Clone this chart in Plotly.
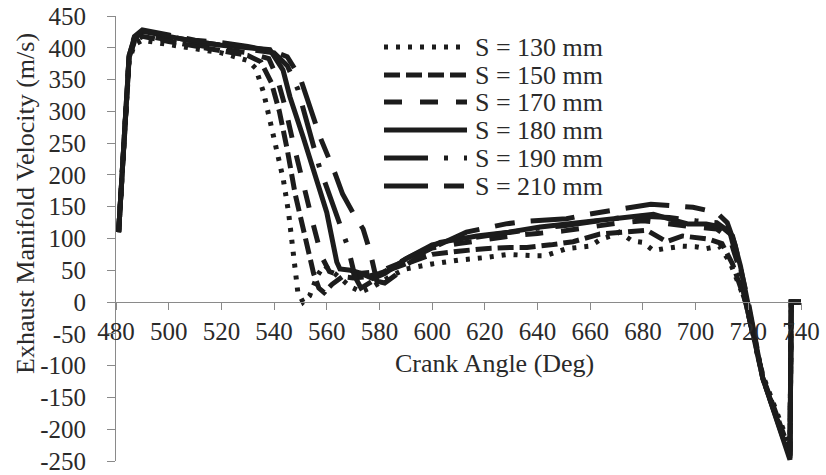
import plotly.graph_objects as go

# ---------------- data ----------------
names = ["S = 130 mm", "S = 150 mm", "S = 170 mm", "S = 180 mm", "S = 190 mm", "S = 210 mm"]

x130 = [481, 483, 485, 487, 490, 500, 510, 520, 530, 533, 536, 539, 541, 543.5, 545.5, 547, 548, 549, 551,
        553.5, 556.5, 559, 563, 569, 573, 578, 584, 590, 600, 610, 620, 629, 638, 643, 651, 660, 664, 668,
        671, 676, 680, 684, 688, 695, 700, 704, 709, 713, 716, 719, 725.5, 735.8, 736.3, 740]
v130 = [110, 250, 380, 405, 412, 405, 398, 392, 380, 368, 330, 276, 245, 193, 141, 88, 52, 16, 0,
        10, 42, 58, 45, 24, 16, 25, 40, 52, 60, 66, 70, 75, 73, 73, 84, 88, 99, 104,
        110, 96, 94, 81, 84, 88, 87, 84, 88, 63, 32, 0, -115, -228, 0, 0]

x150 = [481, 483, 485, 487, 490, 500, 510, 520, 530, 535, 539, 542, 545, 548, 551, 553, 555, 557, 559, 562,
        566, 570, 575, 580, 590, 600, 610, 620, 630, 636, 645, 653.5, 663.7, 672, 681.5, 689, 695, 705,
        710, 714, 717, 719, 725.5, 735.8, 736.3, 740]
v150 = [110, 255, 385, 410, 418, 410, 402, 396, 388, 378, 345, 300, 240, 170, 115, 80, 45, 22, 15, 28,
        40, 38, 40, 45, 60, 75, 80, 84, 86, 86, 90, 95, 107, 110, 113, 95, 104, 99,
        92, 60, 25, 0, -118, -235, 0, 0]

x170 = [481, 483, 485, 487, 490, 500, 510, 520, 530, 538, 541, 544, 547, 551, 555, 558, 561, 565, 570, 575,
        580, 590, 600, 610, 620, 630, 640, 650, 660, 670, 680, 690, 700, 708, 713, 716, 719, 725.5,
        735.8, 736.3, 740]
v170 = [110, 255, 385, 412, 420, 412, 404, 398, 392, 383, 355, 310, 255, 185, 120, 72, 48, 42, 44, 46,
        48, 65, 85, 92, 98, 104, 108, 112, 118, 124, 128, 122, 118, 115, 100, 60, 0, -120,
        -240, 0, 0]

x180 = [481, 483, 485, 487, 490, 500, 510, 520, 530, 538.4, 543.4, 546, 551, 554.8, 560, 563.8, 565, 569,
        573, 577.5, 582, 590, 603, 617, 629, 641, 659, 671, 684, 690, 697, 704, 710, 714, 717, 719.5,
        725.5, 735.8, 736.3, 740]
v180 = [110, 255, 388, 415, 426, 418, 410, 404, 400, 397, 365, 323, 260, 209, 141, 63, 52, 50,
        45, 37, 45, 68, 94, 104, 110, 118, 126, 133, 138, 131, 123, 123, 118, 104, 57, 5,
        -120, -248, 0, 0]

x190 = [481, 483, 485, 487, 490, 500, 510, 520, 530, 540, 545, 549, 553, 557, 562, 565, 568, 570.7, 573,
        577, 582, 590, 600, 610, 620, 630, 640, 650, 660, 670, 680, 690, 700, 708, 713, 716, 719,
        725.5, 735.8, 736.3, 740]
v190 = [110, 255, 388, 416, 425, 418, 410, 404, 398, 392, 372, 335, 275, 215, 157, 120, 87, 40, 22,
        32, 48, 68, 90, 98, 104, 110, 116, 120, 126, 132, 135, 133, 128, 125, 110, 62, 0,
        -120, -242, 0, 0]

x210 = [481, 483, 485, 487, 490, 500, 510, 520, 530, 540, 545, 549.8, 554.4, 557.4, 563, 566, 570, 573.8,
        576.4, 579, 582, 586, 590, 600, 613, 628, 636, 651, 659, 675, 683, 699, 708, 712, 715, 717.5,
        720, 725.5, 735.8, 736.3, 740]
v210 = [110, 255, 390, 418, 428, 420, 412, 408, 402, 394, 386, 354, 295, 260, 204, 170, 140, 115,
        80, 33, 30, 42, 58, 85, 110, 123, 127, 131, 138, 149, 154, 149, 141, 125, 90, 45,
        0, -120, -245, 0, 0]

x_ticks = list(range(480, 741, 20))
y_ticks = list(range(-250, 451, 50))

# ---------------- styles ----------------
xs = [x130, x150, x170, x180, x190, x210]
vs = [v130, v150, v170, v180, v190, v210]
dashes = ["4px,8px", "16px,6px", "18px,18px", "solid", "44px,16px,4px,16px", "44px,16px,20px,16px"]
widths = [5, 5, 5, 5, 5, 5]
LINE = "#1c1c1c"
FONT = "Liberation Serif"
TXT = "#2a2a2a"
AX = "#8a8a8a"
FS = 25

W, H = 826, 475
L, R, T, B = 116, 25, 16, 14
pw, ph = W - L - R, H - T - B

fig = go.Figure()
for n, x, v, d, w in zip(names, xs, vs, dashes, widths):
    fig.add_trace(go.Scatter(x=x, y=v, name=n, mode="lines",
                             line=dict(color=LINE, width=w, dash=d), showlegend=False))

ymin, ymax = -250, 450
fig.update_layout(
    width=W, height=H,
    margin=dict(l=L, r=R, t=T, b=B),
    paper_bgcolor="white", plot_bgcolor="white",
    font=dict(family=FONT, size=FS, color=TXT),
    xaxis=dict(range=[480, 740], tickvals=x_ticks, ticktext=[str(t) for t in x_ticks],
               showgrid=False, zeroline=False, showline=True, linecolor=AX, linewidth=1,
               ticks="outside", ticklen=7, tickcolor=AX, anchor="free",
               position=(0 - ymin) / (ymax - ymin), ticklabelstandoff=0,
               ticklabeloverflow="allow", automargin=False,
               tickfont=dict(family=FONT, size=FS, color=TXT)),
    yaxis=dict(range=[ymin, ymax], tickvals=y_ticks, ticktext=[str(t) for t in y_ticks],
               showgrid=False, zeroline=False, showline=True, linecolor=AX, linewidth=1,
               ticks="outside", ticklen=8, tickcolor=AX, ticklabelstandoff=16,
               ticklabeloverflow="allow", automargin=False,
               tickfont=dict(family=FONT, size=FS, color=TXT)),
)

def px2paper_x(px):
    return (px - L) / pw

def px2paper_y(py):
    return 1 - (py - T) / ph

# custom legend (line samples + labels)
rows = [47, 75, 102, 130, 158, 186]
for n, d, w, ry in zip(names, dashes, widths, rows):
    fig.add_shape(type="line", xref="paper", yref="paper",
                  x0=px2paper_x(384), x1=px2paper_x(467),
                  y0=px2paper_y(ry), y1=px2paper_y(ry),
                  line=dict(color=LINE, width=w, dash=d))
    fig.add_annotation(text=n, xref="paper", yref="paper",
                       x=px2paper_x(473), y=px2paper_y(ry), xanchor="left", yanchor="middle",
                       showarrow=False, font=dict(family=FONT, size=FS + 1, color=TXT))

# axis titles
fig.add_annotation(text="Crank Angle (Deg)", xref="paper", yref="paper",
                   x=px2paper_x(495), y=px2paper_y(363), xanchor="center", yanchor="middle",
                   showarrow=False, font=dict(family=FONT, size=FS + 1, color=TXT))
fig.add_annotation(text="Exhaust Manifold Velocity (m/s)", xref="paper", yref="paper",
                   x=px2paper_x(26), y=px2paper_y(204), xanchor="center", yanchor="middle",
                   textangle=-90, showarrow=False, font=dict(family=FONT, size=FS + 1, color=TXT))

fig.write_html("out.html")
